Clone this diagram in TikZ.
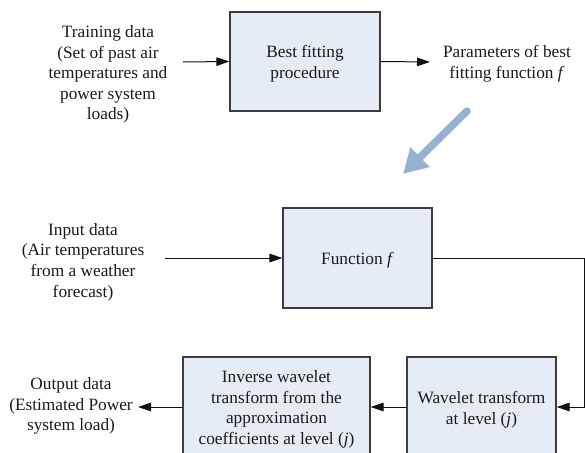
\documentclass[tikz,border=0pt]{standalone}
\usepackage{fontspec}
\setmainfont{Liberation Serif}[Ligatures=TeX]
\usetikzlibrary{arrows.meta}
\definecolor{boxfill}{HTML}{E6ECF6}
\definecolor{boxdraw}{HTML}{3C3C3C}
\definecolor{bigarrow}{HTML}{97B1D3}
\definecolor{txt}{HTML}{1A1A1A}
\definecolor{linec}{HTML}{111111}
\begin{document}
\begin{tikzpicture}[x=1pt,y=-1pt,
  font=\rmfamily\fontsize{17.3}{20.6}\selectfont,
  procbox/.style={draw=boxdraw, fill=boxfill, line width=1.1pt, minimum height=100pt, inner sep=0pt},
  lbl/.style={align=center, inner sep=0pt, text=txt},
  conn/.style={draw=linec, line width=1pt, -{Triangle[length=13pt,width=8.5pt]}},
  bigarr/.style={draw=bigarrow, line width=7.5pt, line cap=round, -{Triangle[length=24pt,width=26pt]}}]
\useasboundingbox (0,0) rectangle (585,452);
\begin{scope}
\clip (0,0) rectangle (585,452);
% boxes
\node[procbox, minimum width=150pt, minimum height=99pt] (fit) at (305,61.5) {};
\node[procbox, minimum width=149pt] (func) at (357.5,258) {};
\node[procbox, minimum width=187pt] (inv) at (276.5,407) {};
\node[procbox, minimum width=149pt] (wav) at (481.5,407) {};
% box texts
\node[lbl] (fittext) at ([yshift=-2.5pt]fit.center) {Best fitting\\procedure};
\node[lbl] (functext) at ([yshift=-2pt]func.center) {Function \textit{f}};
\node[lbl] (invtext) at ([yshift=-2.5pt]inv.center) {Inverse wavelet\\transform from the\\approximation\\coefficients at level (\textit{j})};
\node[lbl] (wavtext) at ([yshift=-3pt]wav.center) {Wavelet transform\\at level (\textit{j})};
% labels
\node[lbl] (train) at (108,74.5) {Training data\\(Set of past air\\temperatures and\\power system\\loads)};
\node[lbl] (params) at (507,64) {Parameters of best\\fitting function \textit{f}};
\node[lbl] (input) at (83,262) {Input data\\(Air temperatures\\from a weather\\forecast)};
\node[lbl] (output) at (71,406) {Output data\\(Estimated Power\\system load)};
% free ends
\coordinate (trainout) at (183,62);
\coordinate (paramin) at (430,62);
\coordinate (inputout) at (165,258);
\coordinate (corner1) at (584,258);
\coordinate (outin) at (138,407);
\coordinate (bigA) at (467,111);
\coordinate (bigB) at (403,174);
% connectors
\draw[conn] (trainout) -- (fit.west);
\draw[conn] (fit.east) -- (paramin);
\draw[conn] (inputout) -- (func.west);
\draw[conn] (func.east) -- (corner1) |- (wav.east);
\draw[conn] (wav.west) -- (inv.east);
\draw[conn] (inv.west) -- (outin);
\draw[bigarr] (bigA) -- (bigB);
\end{scope}
\end{tikzpicture}
\end{document}
